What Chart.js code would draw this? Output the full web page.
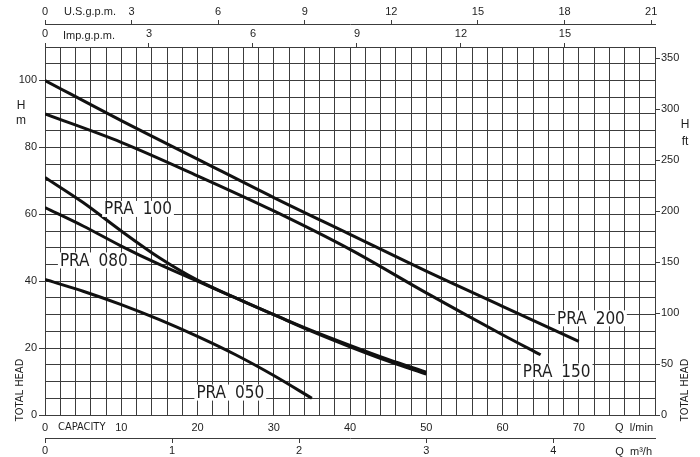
<!DOCTYPE html>
<html>
<head>
<meta charset="utf-8">
<script src="https://cdn.jsdelivr.net/npm/chart.js@4.4.1/dist/chart.umd.min.js"></script>
<style>
  html, body { margin: 0; background: #fff; }
  #wrap { width: 700px; height: 457px; position: relative; }
</style>
</head>
<body>
<div id="wrap"><canvas id="pumpChart"></canvas></div>
<script>
(function () {
  "use strict";

  /* ── Data (flow in l/min, head in m) ── */
  const seriesNames = ['PRA 200', 'PRA 150', 'PRA 100', 'PRA 080', 'PRA 050'];

  const flow200 = [0, 10, 20, 30, 40, 50, 60, 70];
  const head200 = [100, 88, 76.5, 65, 54, 43, 32.5, 22];

  const flow150 = [0, 10, 20, 30, 40, 50, 60, 65];
  const head150 = [90, 81.5, 71.5, 61, 49.5, 36.5, 24, 18];

  const flow100 = [0, 5, 10, 15, 20, 25, 30, 35, 40, 45, 50];
  const head100 = [71, 63.5, 55, 47, 40.3, 35, 30, 25, 20.4, 16.1, 12.2];

  const flow080 = [0, 5, 10, 15, 20, 25, 30, 35, 40, 45, 50];
  const head080 = [62, 56.5, 50.5, 45, 40, 35, 30, 25.2, 20.8, 16.6, 12.8];

  const flow050 = [0, 5, 10, 15, 20, 25, 30, 35];
  const head050 = [40.5, 37, 33, 28.5, 23.5, 18, 11.8, 5];

  /* ── Axis tick labels ── */
  const lpmTicks  = [0, 10, 20, 30, 40, 50, 60, 70];
  const m3hTicks  = [0, 1, 2, 3, 4];
  const usTicks   = [0, 3, 6, 9, 12, 15, 18, 21];
  const impTicks  = [0, 3, 6, 9, 12, 15];
  const headTicks = [0, 20, 40, 60, 80, 100];
  const ftTicks   = [0, 50, 100, 150, 200, 250, 300, 350];

  const Q_MAX = 80, H_MAX = 110;
  const L_PER_USG = 3.78541, L_PER_IMPG = 4.54609, FT_PER_M = 3.28084;

  /* ── Helpers ── */
  const GRID = '#3c3c3c';
  const INK = '#1e1e1e';
  const TICK_FONT = { family: '"Liberation Sans", Arial, sans-serif', size: 11 };
  const NARROW = '"Liberation Sans Narrow", "DejaVu Sans Condensed", "Liberation Sans", sans-serif';

  function pts(xs, ys) { return xs.map((x, i) => ({ x: x, y: ys[i] })); }
  function near(list, v) { return list.some(t => Math.abs(t - v) < 1e-6); }
  function only(list) { return v => near(list, v) ? String(v) : ''; }
  function tickOnly(list) { return c => near(list, c.tick.value) ? GRID : 'rgba(0,0,0,0)'; }
  function fixH(h) { return s => { s.height = h; }; }
  function fixW(w) { return s => { s.width = w; }; }

  function curve(name, xs, ys) {
    return {
      label: name, data: pts(xs, ys),
      borderColor: '#111', borderWidth: 3, pointRadius: 0,
      tension: 0.4, cubicInterpolationMode: 'monotone', fill: false
    };
  }

  /* ── Curve tags: centre of each label, in l/min and m ── */
  const tagAt = [[71.6, 28.9], [67.1, 13.0], [12.2, 61.6], [6.4, 46.2], [24.3, 6.7]];

  const tagPlugin = {
    id: 'tags',
    afterDatasetsDraw(chart) {
      const { ctx, scales: { x, y } } = chart;
      ctx.save();
      ctx.font = '17px ' + NARROW;
      ctx.textBaseline = 'middle';
      seriesNames.forEach((name, i) => {
        const parts = name.split(' ');
        const gap = 9;
        const w0 = ctx.measureText(parts[0]).width;
        const w1 = ctx.measureText(parts[1]).width;
        const w = w0 + gap + w1;
        const cx = x.getPixelForValue(tagAt[i][0]);
        const cy = y.getPixelForValue(tagAt[i][1]);
        const left = cx - w / 2;
        ctx.fillStyle = '#fff';
        ctx.fillRect(left - 2, cy - 8, w + 4, 16);
        ctx.fillStyle = INK;
        ctx.textAlign = 'left';
        ctx.fillText(parts[0], left, cy + 1);
        ctx.fillText(parts[1], left + w0 + gap, cy + 1);
      });
      ctx.restore();
    }
  };

  /* ── Axis captions ── */
  const captionPlugin = {
    id: 'captions',
    afterDraw(chart) {
      const { ctx, chartArea: a, scales: s } = chart;
      ctx.save();
      ctx.fillStyle = INK;
      ctx.textBaseline = 'middle';
      ctx.font = '11px "Liberation Sans", Arial, sans-serif';
      ctx.textAlign = 'left';
      ctx.fillText('U.S.g.p.m.', a.left + 19, (s.us.top + s.us.bottom) / 2);
      ctx.fillText('Imp.g.p.m.', a.left + 18, (s.imp.top + s.imp.bottom) / 2);
      ctx.textAlign = 'right';
      ctx.fillText('Q  l/min', a.right - 2, (s.x.top + s.x.bottom) / 2 + 1);
      ctx.fillText('Q  m\u00b3/h', a.right - 3, s.m3h.bottom - 5);

      ctx.font = '11px ' + NARROW;
      ctx.textAlign = 'left';
      ctx.fillText('CAPACITY', a.left + 13, (s.x.top + s.x.bottom) / 2 + 1);

      ctx.font = '12px "Liberation Sans", Arial, sans-serif';
      ctx.textAlign = 'center';
      ctx.fillText('H', a.left - 24, a.top + 59);
      ctx.fillText('m', a.left - 24, a.top + 74);
      ctx.fillText('H', a.right + 30, a.top + 78);
      ctx.fillText('ft', a.right + 30, a.top + 95);

      ctx.font = '11px ' + NARROW;
      [a.left - 25, a.right + 30].forEach(cx => {
        ctx.save();
        ctx.translate(cx, a.bottom - 25);
        ctx.rotate(-Math.PI / 2);
        ctx.fillText('TOTAL HEAD', 0, 0);
        ctx.restore();
      });
      ctx.restore();
    }
  };

  /* ── Chart ── */
  new Chart(document.getElementById('pumpChart'), {
    type: 'line',
    data: {
      datasets: [
        curve(seriesNames[0], flow200, head200),
        curve(seriesNames[1], flow150, head150),
        curve(seriesNames[2], flow100, head100),
        curve(seriesNames[3], flow080, head080),
        curve(seriesNames[4], flow050, head050)
      ]
    },
    options: {
      responsive: true, maintainAspectRatio: false, animation: false,
      layout: { padding: 0 },
      plugins: { legend: { display: false }, tooltip: { enabled: false } },
      scales: {
        x: {
          type: 'linear', position: 'bottom', weight: 0, min: 0, max: Q_MAX,
          grid: { color: GRID, lineWidth: 1, drawTicks: false },
          border: { color: GRID },
          ticks: { stepSize: 2, maxTicksLimit: 100, autoSkip: false, maxRotation: 0, padding: 6,
                   color: INK, font: TICK_FONT, callback: only(lpmTicks) },
          afterFit: fixH(23)
        },
        m3h: {
          type: 'linear', position: 'bottom', weight: 1, min: 0, max: Q_MAX * 0.06,
          grid: { drawOnChartArea: false, color: GRID, tickLength: 5 },
          border: { color: GRID },
          ticks: { stepSize: 1, includeBounds: false, autoSkip: false, maxRotation: 0, padding: 1,
                   color: INK, font: TICK_FONT, callback: only(m3hTicks) },
          afterFit: fixH(19)
        },
        imp: {
          type: 'linear', position: 'top', weight: 0, min: 0, max: Q_MAX / L_PER_IMPG,
          grid: { drawOnChartArea: false, color: GRID, tickLength: 4 },
          border: { color: GRID },
          ticks: { stepSize: 3, includeBounds: false, autoSkip: false, maxRotation: 0, padding: 2,
                   color: INK, font: TICK_FONT, callback: only(impTicks) },
          afterFit: fixH(23)
        },
        us: {
          type: 'linear', position: 'top', weight: 1, min: 0, max: Q_MAX / L_PER_USG,
          grid: { drawOnChartArea: false, color: GRID, tickLength: 4 },
          border: { color: GRID },
          ticks: { stepSize: 3, includeBounds: false, autoSkip: false, maxRotation: 0, padding: 1,
                   color: INK, font: TICK_FONT, callback: only(usTicks) },
          afterFit: fixH(24)
        },
        y: {
          type: 'linear', position: 'left', min: 0, max: H_MAX,
          grid: { color: GRID, lineWidth: 1, tickLength: 6, tickColor: tickOnly(headTicks) },
          border: { color: GRID },
          ticks: { stepSize: 5, maxTicksLimit: 100, autoSkip: false, padding: 2,
                   color: INK, font: TICK_FONT, callback: only(headTicks) },
          afterFit: fixW(45)
        },
        ft: {
          type: 'linear', position: 'right', min: 0, max: H_MAX * FT_PER_M,
          grid: { drawOnChartArea: false, color: GRID, tickLength: 5 },
          border: { color: GRID },
          ticks: { stepSize: 50, includeBounds: false, autoSkip: false, padding: 1,
                   color: INK, font: TICK_FONT, callback: only(ftTicks) },
          afterFit: fixW(45)
        }
      }
    },
    plugins: [tagPlugin, captionPlugin]
  });
})();
</script>
</body>
</html>
